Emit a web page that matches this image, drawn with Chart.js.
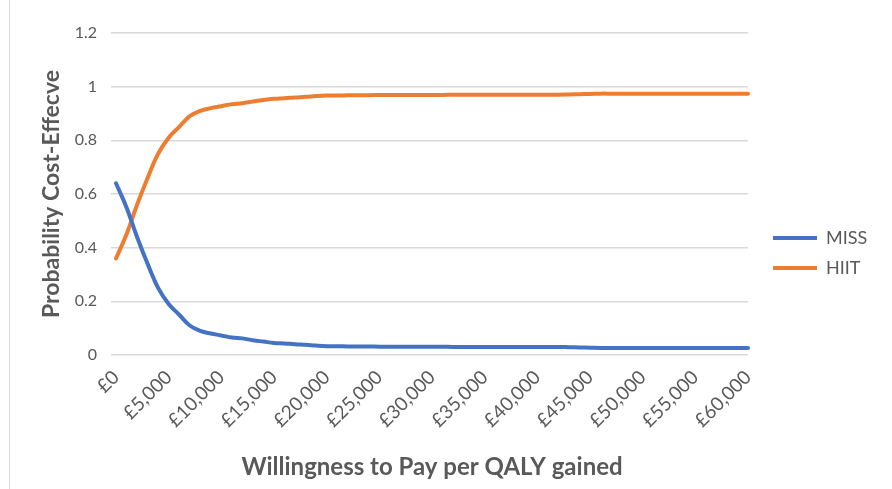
<!DOCTYPE html>
<html>
<head>
<meta charset="utf-8">
<script src="https://cdn.jsdelivr.net/npm/chart.js@4.4.1/dist/chart.umd.min.js"></script>
<style>
  html, body { margin: 0; padding: 0; background: #fff; }
  #wrap { position: relative; width: 892px; height: 489px; }
  #frame { position: absolute; left: 9px; top: 0; bottom: 0; border-left: 1px solid #d9d9d9; }
</style>
</head>
<body>
<div id="wrap">
  <div id="frame"></div>
  <canvas id="ceac" width="892" height="489"></canvas>
</div>
<script>
// willingness to pay per QALY (£), one point every £1,000
var wtp = [0, 1000, 2000, 3000, 4000, 5000, 6000, 7000, 8000, 9000,
  10000, 11000, 12000, 13000, 14000, 15000, 16000, 17000, 18000, 19000,
  20000, 21000, 22000, 23000, 24000, 25000, 26000, 27000, 28000, 29000,
  30000, 31000, 32000, 33000, 34000, 35000, 36000, 37000, 38000, 39000,
  40000, 41000, 42000, 43000, 44000, 45000, 46000, 47000, 48000, 49000,
  50000, 51000, 52000, 53000, 54000, 55000, 56000, 57000, 58000, 59000, 60000];

var miss = [0.64, 0.55, 0.44, 0.34, 0.25, 0.19, 0.15, 0.11, 0.09, 0.08,
  0.073, 0.065, 0.062, 0.055, 0.05, 0.045, 0.043, 0.04, 0.038, 0.035,
  0.033, 0.033, 0.032, 0.032, 0.032, 0.031, 0.031, 0.031, 0.031, 0.031,
  0.031, 0.031, 0.03, 0.03, 0.03, 0.03, 0.03, 0.03, 0.03, 0.03,
  0.03, 0.03, 0.03, 0.029, 0.028, 0.027, 0.026, 0.026, 0.026, 0.026,
  0.026, 0.026, 0.026, 0.026, 0.026, 0.026, 0.026, 0.026, 0.026, 0.026, 0.026];

var hiit = [0.36, 0.45, 0.56, 0.66, 0.75, 0.81, 0.85, 0.89, 0.91, 0.92,
  0.927, 0.935, 0.938, 0.945, 0.95, 0.955, 0.957, 0.96, 0.962, 0.965,
  0.967, 0.967, 0.968, 0.968, 0.968, 0.969, 0.969, 0.969, 0.969, 0.969,
  0.969, 0.969, 0.97, 0.97, 0.97, 0.97, 0.97, 0.97, 0.97, 0.97,
  0.97, 0.97, 0.97, 0.971, 0.972, 0.973, 0.974, 0.974, 0.974, 0.974,
  0.974, 0.974, 0.974, 0.974, 0.974, 0.974, 0.974, 0.974, 0.974, 0.974, 0.974];

var yTicks = [0, 0.2, 0.4, 0.6, 0.8, 1, 1.2];
var yTickText = ["0", "0.2", "0.4", "0.6", "0.8", "1", "1.2"];

var fam = "Lato, 'Noto Sans', sans-serif";
var grey = "#595959";

// legend placement tweaks (Excel puts it a little off centre)
var legendFix = {
  id: "legendFix",
  afterInit: function(chart){
    var lg = chart.legend;
    var fit = lg.fit;
    lg.fit = function(){ fit.call(this); this.width = 144; };
  },
  afterLayout: function(chart){
    var lg = chart.legend;
    lg.top -= 8; lg.bottom -= 8;
    lg.left += 13; lg.right += 13;
  }
};

new Chart(document.getElementById("ceac"), {
  type: "line",
  data: {
    labels: wtp,
    datasets: [
      { label: "MISS", data: miss, borderColor: "#4472C4", backgroundColor: "#4472C4",
        borderWidth: 4, pointRadius: 0, pointStyle: "line", tension: 0.4,
        borderCapStyle: "round", borderJoinStyle: "round" },
      { label: "HIIT", data: hiit, borderColor: "#ED7D31", backgroundColor: "#ED7D31",
        borderWidth: 4, pointRadius: 0, pointStyle: "line", tension: 0.4,
        borderCapStyle: "round", borderJoinStyle: "round" }
    ]
  },
  options: {
    responsive: false,
    animation: false,
    layout: { padding: { top: 33, left: 0, right: 0, bottom: 0 } },
    plugins: {
      tooltip: { enabled: false },
      legend: {
        position: "right",
        labels: {
          usePointStyle: true, pointStyleWidth: 44, padding: 12,
          color: grey, font: { family: fam, size: 18 }
        }
      }
    },
    scales: {
      x: {
        grid: { display: false, drawTicks: false },
        border: { display: false },
        ticks: {
          autoSkip: false, maxRotation: 45, minRotation: 45, padding: 11,
          color: grey, font: { family: fam, size: 19 },
          callback: function(v, i){
            var n = wtp[i];
            return n % 5000 === 0 ? "£" + n.toLocaleString("en-GB") : "";
          }
        },
        title: { display: true, text: "Willingness to Pay per QALY gained", color: grey,
          font: { family: fam, size: 24, weight: "bold" }, padding: { top: 0, bottom: 7 } },
        afterFit: function(s){ s.height = 134; }
      },
      y: {
        min: 0, max: 1.2,
        afterBuildTicks: function(s){ s.ticks = yTicks.map(function(v){ return { value: v }; }); },
        grid: { color: "#d9d9d9", lineWidth: 1.5, tickLength: 5, tickColor: "#d9d9d9" },
        border: { display: false },
        ticks: { padding: 14, color: grey, font: { family: fam, size: 16 },
          callback: function(v, i){ return yTickText[i]; } },
        title: { display: true, text: "Probability Cost-Effecve", color: grey,
          font: { family: fam, size: 23, weight: "bold" }, padding: { top: 38, bottom: 0 } },
        afterFit: function(s){ s.width = 116; }
      }
    }
  },
  plugins: [legendFix]
});
</script>
</body>
</html>
